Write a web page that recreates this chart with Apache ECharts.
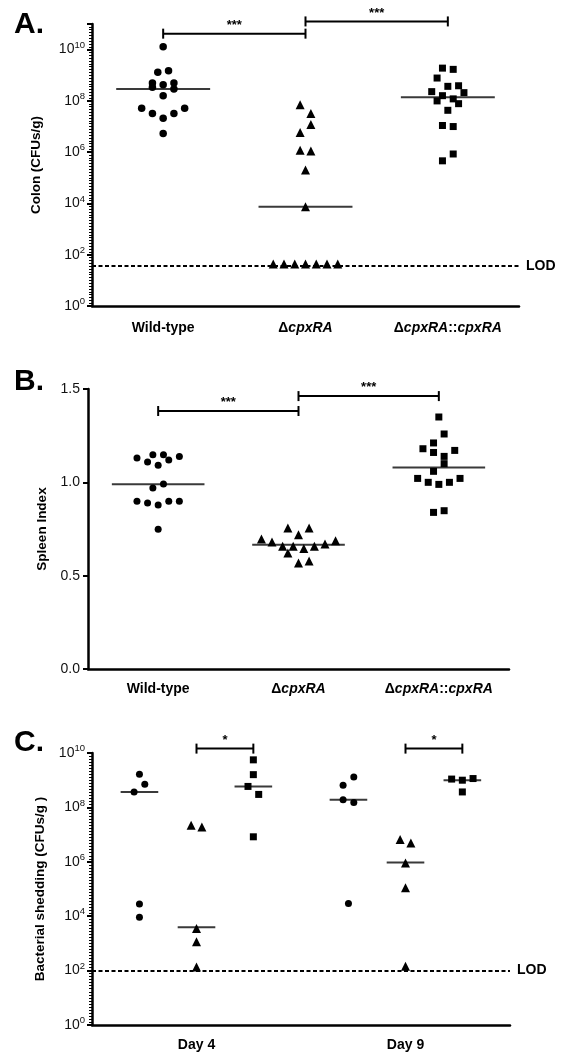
<!DOCTYPE html>
<html>
<head>
<meta charset="utf-8">
<script src="https://cdn.jsdelivr.net/npm/echarts@6/dist/echarts.min.js"></script>
<style>
  html, body { margin: 0; padding: 0; background: #fff; }
  #chart { width: 564px; height: 1052px; }
</style>
</head>
<body>
<div id="chart"></div>
<script>
// ---- data ----
var strains = ['Wild-type', 'ΔcpxRA', 'ΔcpxRA::cpxRA'];
var days = ['Day 4', 'Day 9'];

// A. colon CFUs/g (jitter in dot widths)
var colonWT = [1.3e10, 1.3e9, 1.5e9, 5.0e8, 4.3e8, 5.0e8, 3.4e8, 2.9e8, 1.6e8, 5.2e7, 5.2e7, 3.2e7, 3.2e7, 2.1e7, 5.4e6];
var colonWTJit = [0, -0.5, 0.5, -1, 0, 1, -1, 1, 0, -2, 2, -1, 1, 0, 0];
var colonKO = [7.1e7, 3.2e7, 1.2e7, 5.9e6, 1.2e6, 1.1e6, 2.0e5, 7.4e3, 43, 43, 43, 43, 43, 43, 43];
var colonKOJit = [-0.5, 0.5, 0.5, -0.5, -0.5, 0.5, 0, 0, -3, -2, -1, 0, 1, 2, 3];
var colonComp = [1.9e9, 1.7e9, 7.8e8, 3.7e8, 3.9e8, 2.3e8, 2.1e8, 1.6e8, 1.2e8, 1.0e8, 7.8e7, 4.3e7, 1.1e7, 1.0e7, 8.5e5, 4.6e5];
var colonCompJit = [-0.5, 0.5, -1, 0, 1, -1.5, 1.5, -0.5, 0.5, -1, 1, 0, -0.5, 0.5, 0.5, -0.5];
var colonMedians = [2.9e8, 7.5e3, 1.4e8];
var colonLOD = 37;
var colonBrackets = [[0, 4.2e10, 1], [1, 1.26e11, 2]];
var colonStars = ['***', '***'];

// B. spleen index
var spleenWT = [1.130, 1.148, 1.148, 1.139, 1.109, 1.119, 1.091, 0.969, 0.991, 0.898, 0.889, 0.879, 0.898, 0.898, 0.748];
var spleenWTJit = [-2, -0.5, 0.5, 2, -1, 1, 0, -0.5, 0.5, -2, -1, 0, 1, 2, 0];
var spleenKO = [0.696, 0.680, 0.657, 0.621, 0.755, 0.657, 0.719, 0.568, 0.646, 0.755, 0.578, 0.657, 0.670, 0.687];
var spleenKOJit = [-3.5, -2.5, -1.5, -1, -1, -0.5, 0, 0, 0.5, 1, 1, 1.5, 2.5, 3.5];
var spleenComp = [1.350, 1.259, 1.211, 1.180, 1.160, 1.171, 1.139, 1.100, 1.059, 1.021, 1.000, 0.989, 1.000, 1.021, 0.839, 0.848];
var spleenCompJit = [0, 0.5, -0.5, -1.5, -0.5, 1.5, 0.5, 0.5, -0.5, -2, -1, 0, 1, 2, -0.5, 0.5];
var spleenMedians = [0.99, 0.666, 1.08];
var spleenBrackets = [[0, 1.382, 1], [1, 1.462, 2]];
var spleenStars = ['***', '***'];

// C. bacterial shedding CFUs/g
var shedWTDay4 = [1.66e9, 7.1e8, 3.7e8, 2.8e4, 9.1e3];
var shedWTDay9 = [1.3e9, 6.5e8, 1.9e8, 1.5e8, 2.95e4];
var shedWTJit = [[0, 0.5, -0.5, 0, 0], [0.5, -0.5, -0.5, 0.5, 0]];
var shedKODay4 = [2.2e7, 1.9e7, 3.5e3, 1.15e3, 135];
var shedKODay9 = [6.6e6, 4.9e6, 9.1e5, 1.1e5, 145];
var shedKOJit = [[-0.5, 0.5, 0, 0, 0], [-0.5, 0.5, 0, 0, 0]];
var shedCompDay4 = [5.6e9, 1.6e9, 5.9e8, 3.0e8, 8.3e6];
var shedCompDay9 = [1.1e9, 1.0e9, 1.15e9, 3.7e8];
var shedCompJit = [[0, 0, -0.5, 0.5, 0], [-1, 0, 1, 0]];
var shedMediansDay4 = [3.7e8, 3.9e3, 5.9e8];
var shedMediansDay9 = [1.9e8, 9.5e5, 1.0e9];
var shedLOD = 100;
var shedBrackets = [[0, 1.45e10, 0.272], [1, 1.45e10, 1.272]];
var shedStars = ['*', '*'];

// ---- layout / style ----
var FONT = '"Liberation Sans", Arial, Helvetica, sans-serif';
var stepAB = 0.0755;          // one dot width in category units
var stepC = 0.0512;
var groupShiftC = [-0.273, 0, 0.272];

// CFU panels are drawn on a log10 value axis (exponent scale)
function lg(v) { return Math.log10(v); }
function ident(v) { return v; }

function place(vals, jit, center, step, f) {
  return vals.map(function (v, i) { return [center + jit[i] * step, f(v)]; });
}

var axisLineStyle = { color: '#000', width: 2.5 };
var tickStyle = { length: 5, lineStyle: { color: '#000', width: 2 } };
var nameStyle = { fontFamily: FONT, fontWeight: 'bold', fontSize: 13.5, color: '#000' };

function logYAxis(grid, max, name, gap, showMax) {
  return {
    type: 'value', gridIndex: grid, min: 0, max: max, interval: 2,
    name: name, nameLocation: 'middle', nameGap: gap, nameTextStyle: nameStyle,
    axisLine: { show: true, onZero: false, lineStyle: axisLineStyle },
    axisTick: tickStyle,
    minorTick: { show: true, splitNumber: 18, length: 3, lineStyle: { color: '#000', width: 1 } },
    splitLine: { show: false },
    axisLabel: {
      showMaxLabel: showMax, margin: 7, fontFamily: FONT, fontSize: 14, color: '#111',
      formatter: function (v) { return '10{s|' + Math.round(v) + '}'; },
      rich: { s: { fontFamily: FONT, fontSize: 9.5, color: '#111', padding: [0, 0, 9, 0] } }
    }
  };
}

function catAxis(grid, names, margin) {
  return {
    type: 'category', gridIndex: grid, data: names, boundaryGap: true,
    axisLine: { onZero: false, lineStyle: axisLineStyle },
    axisTick: { alignWithLabel: true, length: 5, lineStyle: { color: '#000', width: 2 } },
    axisLabel: {
      interval: 0, margin: margin, fontFamily: FONT, fontWeight: 'bold', fontSize: 14, color: '#000',
      formatter: function (v) { return v.replace(/cpxRA/g, '{i|cpxRA}'); },
      rich: { i: { fontFamily: FONT, fontWeight: 'bold', fontStyle: 'italic', fontSize: 14, color: '#000' } }
    }
  };
}

function valXAxis(grid, n) {
  return { type: 'value', gridIndex: grid, min: -0.5, max: n - 0.5, show: false };
}

function dots(xi, yi, symbol, size, data) {
  return {
    type: 'scatter', xAxisIndex: xi, yAxisIndex: yi, symbol: symbol, symbolSize: size,
    itemStyle: { color: '#000', opacity: 1 }, data: data, z: 3, silent: true
  };
}

function medians(xi, yi, data, halfWidth) {
  return {
    type: 'custom', xAxisIndex: xi, yAxisIndex: yi, data: data, z: 2, silent: true, clip: false,
    renderItem: function (params, api) {
      var a = api.coord([api.value(0) - halfWidth, api.value(1)]);
      var b = api.coord([api.value(0) + halfWidth, api.value(1)]);
      return { type: 'line', shape: { x1: a[0], y1: a[1], x2: b[0], y2: b[1] },
               style: { stroke: '#3a3a3a', lineWidth: 2 } };
    }
  };
}

function brackets(xi, yi, data, stars) {
  return {
    type: 'custom', xAxisIndex: xi, yAxisIndex: yi, data: data, z: 4, silent: true, clip: false,
    renderItem: function (params, api) {
      var a = api.coord([api.value(0), api.value(1)]);
      var b = api.coord([api.value(2), api.value(1)]);
      var y = a[1];
      var st = { stroke: '#000', lineWidth: 2 };
      return { type: 'group', children: [
        { type: 'line', shape: { x1: a[0], y1: y, x2: b[0], y2: y }, style: st },
        { type: 'line', shape: { x1: a[0], y1: y - 5, x2: a[0], y2: y + 5 }, style: st },
        { type: 'line', shape: { x1: b[0], y1: y - 5, x2: b[0], y2: y + 5 }, style: st },
        { type: 'text', x: (a[0] + b[0]) / 2, y: y - 2,
          style: { text: stars[params.dataIndex], font: 'bold 13px ' + FONT, fill: '#000',
                   align: 'center', verticalAlign: 'bottom' } }
      ] };
    }
  };
}

function lod(value) {
  return {
    silent: true, symbol: ['none', 'none'], animation: false,
    lineStyle: { color: '#000', width: 2, type: [4, 2.5] },
    label: { show: true, position: 'end', formatter: 'LOD', distance: 7,
             fontFamily: FONT, fontWeight: 'bold', fontSize: 14, color: '#000' },
    data: [{ yAxis: value }]
  };
}

function bracketData(list, f) {
  return list.map(function (b) { return [b[0], f(b[1]), b[2]]; });
}

var series = [];
// A
series.push(dots(1, 0, 'circle', 7.5, place(colonWT, colonWTJit, 0, stepAB, lg)));
var koA = dots(1, 0, 'triangle', 9, place(colonKO, colonKOJit, 1, stepAB, lg));
koA.markLine = lod(lg(colonLOD));
series.push(koA);
series.push(dots(1, 0, 'rect', 7, place(colonComp, colonCompJit, 2, stepAB, lg)));
series.push(medians(1, 0, colonMedians.map(function (m, i) { return [i, lg(m)]; }), 0.33));
series.push(brackets(1, 0, bracketData(colonBrackets, lg), colonStars));
// B
series.push(dots(3, 1, 'circle', 7, place(spleenWT, spleenWTJit, 0, stepAB, ident)));
series.push(dots(3, 1, 'triangle', 9, place(spleenKO, spleenKOJit, 1, stepAB, ident)));
series.push(dots(3, 1, 'rect', 7, place(spleenComp, spleenCompJit, 2, stepAB, ident)));
series.push(medians(3, 1, spleenMedians.map(function (m, i) { return [i, m]; }), 0.33));
series.push(brackets(3, 1, bracketData(spleenBrackets, ident), spleenStars));
// C
var wtC = place(shedWTDay4, shedWTJit[0], 0 + groupShiftC[0], stepC, lg)
  .concat(place(shedWTDay9, shedWTJit[1], 1 + groupShiftC[0], stepC, lg));
var koC = place(shedKODay4, shedKOJit[0], 0 + groupShiftC[1], stepC, lg)
  .concat(place(shedKODay9, shedKOJit[1], 1 + groupShiftC[1], stepC, lg));
var compC = place(shedCompDay4, shedCompJit[0], 0 + groupShiftC[2], stepC, lg)
  .concat(place(shedCompDay9, shedCompJit[1], 1 + groupShiftC[2], stepC, lg));
series.push(dots(5, 2, 'circle', 7, wtC));
var koCser = dots(5, 2, 'triangle', 9, koC);
koCser.markLine = lod(lg(shedLOD));
series.push(koCser);
series.push(dots(5, 2, 'rect', 7, compC));
var medC = [];
[shedMediansDay4, shedMediansDay9].forEach(function (arr, d) {
  arr.forEach(function (m, g) { medC.push([d + groupShiftC[g], lg(m)]); });
});
series.push(medians(5, 2, medC, 0.09));
series.push(brackets(5, 2, bracketData(shedBrackets, lg), shedStars));

var chart = echarts.init(document.getElementById('chart'));
chart.setOption({
  animation: false,
  backgroundColor: '#fff',
  textStyle: { fontFamily: FONT },
  grid: [
    { left: 92, right: 45, top: 24, height: 282 },
    { left: 88, right: 55, top: 389, height: 280 },
    { left: 92, right: 54, top: 753, height: 278 }
  ],
  xAxis: [
    catAxis(0, strains, 15), valXAxis(0, 3),
    catAxis(1, strains, 13), valXAxis(1, 3),
    catAxis(2, days, 13), valXAxis(2, 2)
  ],
  yAxis: [
    logYAxis(0, 11, 'Colon (CFUs/g)', 49, false),
    {
      type: 'value', gridIndex: 1, min: 0, max: 1.5, interval: 0.5,
      name: 'Spleen Index', nameLocation: 'middle', nameGap: 39, nameTextStyle: nameStyle,
      axisLine: { show: true, onZero: false, lineStyle: axisLineStyle },
      axisTick: tickStyle,
      splitLine: { show: false },
      axisLabel: { margin: 8, fontFamily: FONT, fontSize: 14, color: '#111',
                   formatter: function (v) { return v.toFixed(1); } }
    },
    logYAxis(2, 10, 'Bacterial shedding (CFUs/g )', 45, true)
  ],
  graphic: [
    { type: 'text', x: 14, y: 25, style: { text: 'A.', font: 'bold 30px ' + FONT, fill: '#000', verticalAlign: 'middle' } },
    { type: 'text', x: 14, y: 382, style: { text: 'B.', font: 'bold 30px ' + FONT, fill: '#000', verticalAlign: 'middle' } },
    { type: 'text', x: 14, y: 743, style: { text: 'C.', font: 'bold 30px ' + FONT, fill: '#000', verticalAlign: 'middle' } }
  ],
  series: series
});
</script>
</body>
</html>
